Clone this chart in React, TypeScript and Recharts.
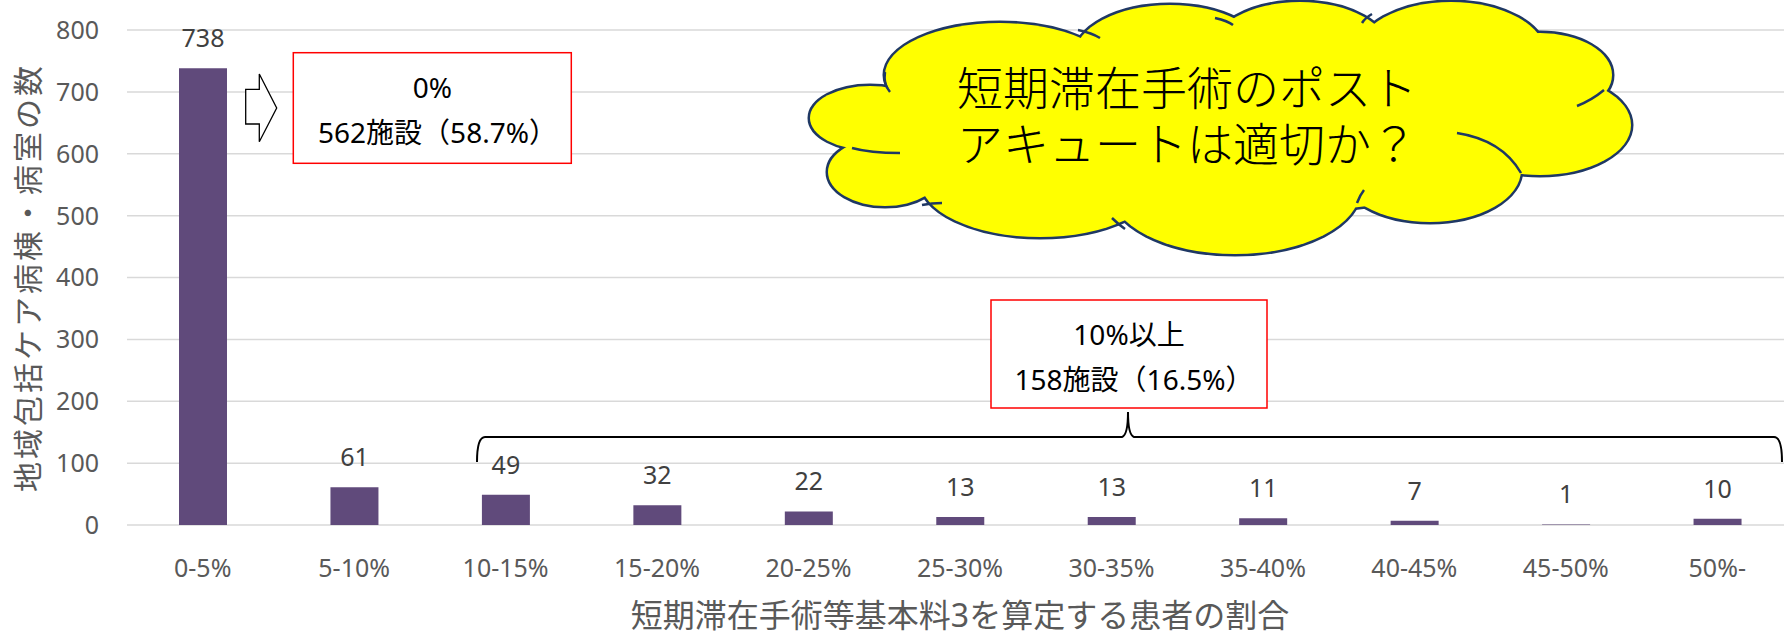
import React from 'react';
import { BarChart, Bar, XAxis, YAxis, CartesianGrid, LabelList } from 'recharts';

const categories = ['0-5%', '5-10%', '10-15%', '15-20%', '20-25%', '25-30%', '30-35%', '35-40%', '40-45%', '45-50%', '50%-'];
const counts = [738, 61, 49, 32, 22, 13, 13, 11, 7, 1, 10];
const yTicks = [0, 100, 200, 300, 400, 500, 600, 700, 800];
const xAxisTitle = '短期滞在手術等基本料3を算定する患者の割合';
const yAxisTitle = '地域包括ケア病棟・病室の数';
const box1Lines = ['0%', '562施設（58.7%）'];
const box2Lines = ['10%以上', '158施設（16.5%）'];
const cloudLines = ['短期滞在手術のポスト', 'アキュートは適切か？'];

const data = categories.map((c, i) => ({ category: c, value: counts[i] }));

const FONT = "'Noto Sans', 'Noto Sans CJK JP', sans-serif";
const CJK = "'Noto Sans CJK JP', 'Noto Sans', sans-serif";
const BAR = '#604A7B';
const AXIS_TEXT = '#595959';

const cloudLobes: [number, number, number, number][] = [
  [870, 118, 60, 32],
  [885, 172, 57, 34],
  [1000, 75, 115, 52],
  [1170, 55, 95, 50],
  [1300, 52, 90, 50],
  [1451, 55, 95, 53],
  [1540, 75, 72, 42],
  [1540, 125, 91, 50],
  [1430, 170, 91, 52],
  [1235, 190, 125, 64],
  [1040, 180, 120, 57],
  [1220, 130, 330, 85],
];

const cloudTails = [
  'M1604,90 Q1592,100 1577,106',
  'M1457,133 Q1502,140 1521,173',
  'M852,148 Q870,153 900,153',
  'M922,205 Q932,203 942,203',
  'M1112,218 Q1118,224 1125,229',
  'M885,72 Q883,84 890,92',
  'M1078,30 Q1092,33 1100,38',
  'M1215,18 Q1228,21 1233,25',
  'M1362,23 Q1365,18 1372,14',
  'M1357,203 Q1360,195 1364,190',
];

function Overlay() {
  const outline = '#1F3864';
  return (
    <svg
      width={1784}
      height={633}
      style={{ position: 'absolute', left: 0, top: 0, pointerEvents: 'none' }}
    >
      <path
        d="M245.7,89.3 L259.3,89.3 L259.3,74 L276.7,108 L259.3,141.7 L259.3,124 L245.7,124 Z"
        fill="#fff"
        stroke="#000"
        strokeWidth={1.3}
      />
      <rect x={293.3} y={52.7} width={278} height={110.6} fill="#fff" stroke="#ff0000" strokeWidth={1.5} />
      <text x={432.5} y={98.3} textAnchor="middle" fontFamily={FONT} fontSize={28} fill="#000">
        {box1Lines[0]}
      </text>
      <text x={437.5} y={143} textAnchor="middle" fontFamily={FONT} fontSize={28} fill="#000">
        {box1Lines[1]}
      </text>
      <rect x={991} y={300} width={276} height={108} fill="#fff" stroke="#ff0000" strokeWidth={1.5} />
      <text x={1129} y={345} textAnchor="middle" fontFamily={FONT} fontSize={28} fill="#000">
        {box2Lines[0]}
      </text>
      <text x={1134} y={390} textAnchor="middle" fontFamily={FONT} fontSize={28} fill="#000">
        {box2Lines[1]}
      </text>
      <path
        d="M477,462 Q477,437 485,437 L1122,437 Q1128,435 1128,412 Q1128,435 1134,437 L1774,437 Q1782,437 1782,462"
        fill="none"
        stroke="#000"
        strokeWidth={2}
      />
      <g>
        {cloudLobes.map(([cx, cy, rx, ry], i) => (
          <ellipse key={'s' + i} cx={cx} cy={cy} rx={rx} ry={ry} fill={outline} stroke={outline} strokeWidth={5} />
        ))}
        {cloudLobes.map(([cx, cy, rx, ry], i) => (
          <ellipse key={'f' + i} cx={cx} cy={cy} rx={rx} ry={ry} fill="#ffff00" />
        ))}
        {cloudTails.map((d, i) => (
          <path key={'t' + i} d={d} fill="none" stroke={outline} strokeWidth={2.5} />
        ))}
        <text x={1187} y={105} textAnchor="middle" fontFamily={CJK} fontSize={46} fontWeight={300} fill="#000">
          {cloudLines[0]}
        </text>
        <text x={1187} y={161} textAnchor="middle" fontFamily={CJK} fontSize={46} fontWeight={300} fill="#000">
          {cloudLines[1]}
        </text>
      </g>
    </svg>
  );
}

export default function App() {
  return (
    <div
      style={{
        position: 'absolute',
        left: 0,
        top: 0,
        width: 1784,
        height: 633,
        overflow: 'hidden',
        background: '#fff',
        fontFamily: FONT,
      }}
    >
      <BarChart
        width={1800}
        height={633}
        data={data}
        margin={{ top: 30, right: 7, bottom: 0, left: 0 }}
      >
        <CartesianGrid vertical={false} stroke="#d9d9d9" strokeWidth={1.5} />
        <XAxis
          dataKey="category"
          height={108}
          axisLine={false}
          tickLine={false}
          tickSize={0}
          tickMargin={34}
          interval={0}
          tick={{ fill: AXIS_TEXT, fontSize: 25, fontFamily: FONT }}
          label={{
            value: xAxisTitle,
            position: 'insideBottom',
            offset: 6,
            fill: AXIS_TEXT,
            fontSize: 32,
            fontFamily: FONT,
          }}
        />
        <YAxis
          width={127}
          domain={[0, 800]}
          ticks={yTicks}
          axisLine={false}
          tickLine={false}
          tickSize={0}
          tickMargin={28}
          tick={{ fill: AXIS_TEXT, fontSize: 25, fontFamily: FONT }}
          label={{
            value: yAxisTitle,
            angle: -90,
            position: 'insideLeft',
            offset: 28,
            textAnchor: 'middle',
            fill: AXIS_TEXT,
            fontSize: 30,
            fontFamily: CJK,
            style: { letterSpacing: '3px' },
          }}
        />
        <Bar dataKey="value" fill={BAR} barSize={48} isAnimationActive={false}>
          <LabelList dataKey="value" position="top" offset={21} fill="#404040" fontSize={25} fontFamily={FONT} />
        </Bar>
      </BarChart>
      <Overlay />
    </div>
  );
}
